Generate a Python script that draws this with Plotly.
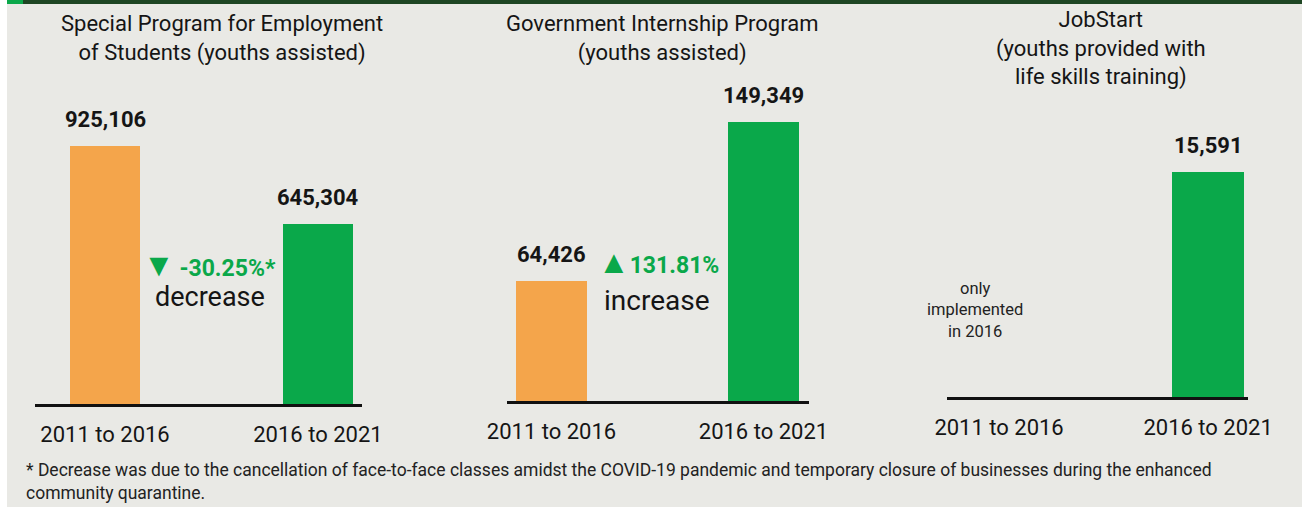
import plotly.graph_objects as go

W, H = 1302, 513

# ---- data ----
categories = ["2011 to 2016", "2016 to 2021"]
spes_values = [925106, 645304]
gip_values = [64426, 149349]
jobstart_values = [None, 15591]
spes_labels = ["925,106", "645,304"]
gip_labels = ["64,426", "149,349"]
jobstart_labels = [None, "15,591"]
titles = [
    "Special Program for Employment<br>of Students (youths assisted)",
    "Government Internship Program<br>(youths assisted)",
    "JobStart<br>(youths provided with<br>life skills training)",
]
spes_change = "-30.25%*"
gip_change = "131.81%"
footnote = ("* Decrease was due to the cancellation of face-to-face classes amidst the COVID-19 pandemic "
            "and temporary closure of businesses during the enhanced<br>community quarantine.")

ORANGE = "#F4A54B"
GREEN = "#0AA84A"
BG = "#E9E9E5"
DARK = "#1E4623"
TXT = "#151515"
FONT = "Roboto"

def px(x):
    return x / W

def py(y):
    return 1 - y / H

fig = go.Figure()

panels = [
    # values, labels, xdomain px, xrange, y baseline px, ymax, bar width
    (spes_values, spes_labels, (35, 362), (-0.329, 1.207), 404, 304 * 3586, 0.329),
    (gip_values, gip_labels, (507, 809), (-0.21, 1.215), 401, 301 * 536, 0.335),
    (jobstart_values, jobstart_labels, (947, 1248), (-0.249, 1.191), 397, 297 * 69.3, 0.344),
]
TOP = 100

for i, (vals, labs, xd, xr, base, ymax, bw) in enumerate(panels):
    n = "" if i == 0 else str(i + 1)
    colors = [ORANGE, GREEN]
    fig.add_trace(go.Bar(
        x=[0, 1], y=vals, marker=dict(color=colors, line=dict(width=0)),
        width=bw, xaxis="x" + n, yaxis="y" + n, hoverinfo="skip",
        showlegend=False,
    ))
    fig.layout["xaxis" + n] = dict(
        domain=[px(xd[0]), px(xd[1])], range=list(xr), anchor="y" + n,
        tickmode="array", tickvals=[0, 1], ticktext=categories,
        showline=True, linecolor="#111111", linewidth=2.5,
        showgrid=False, zeroline=False, ticks="",
        ticklabelstandoff=9, automargin=False,
        tickfont=dict(family=FONT, size=22, color=TXT),
        fixedrange=True,
    )
    fig.layout["yaxis" + n] = dict(
        domain=[py(base), py(TOP)], range=[0, ymax], anchor="x" + n,
        visible=False, showgrid=False, zeroline=False, fixedrange=True,
        automargin=False,
    )
    for j, (v, lab) in enumerate(zip(vals, labs)):
        if v is None:
            continue
        fig.add_annotation(
            x=j, y=v, xref="x" + n, yref="y" + n, text="<b>%s</b>" % lab,
            showarrow=False, yanchor="bottom", yshift=12,
            font=dict(family=FONT, size=22, color=TXT),
        )

# titles
title_pos = [(222, 39), (662, 39), (1101, 48)]
for t, (tx, ty) in zip(titles, title_pos):
    fig.add_annotation(
        x=px(tx), y=py(ty), xref="paper", yref="paper", text=t, showarrow=False,
        xanchor="center", yanchor="middle", align="center",
        font=dict(family=FONT, size=22, color=TXT),
    )

TRI = "<span style='font-size:32px'>%s</span>"
# change annotations
fig.add_annotation(x=px(209), y=py(265), xref="paper", yref="paper",
                   xanchor="center", yanchor="middle",
                   text=TRI % "▼" + "\u2009<b>%s</b>" % spes_change, showarrow=False,
                   font=dict(family=FONT, size=23, color=GREEN))
fig.add_annotation(x=px(210), y=py(297), xref="paper", yref="paper",
                   xanchor="center", yanchor="middle",
                   text="decrease", showarrow=False,
                   font=dict(family=FONT, size=27, color=TXT))
fig.add_annotation(x=px(658), y=py(262), xref="paper", yref="paper",
                   xanchor="center", yanchor="middle",
                   text=TRI % "▲" + "<b>%s</b>" % gip_change, showarrow=False,
                   font=dict(family=FONT, size=23, color=GREEN))
fig.add_annotation(x=px(657), y=py(300), xref="paper", yref="paper",
                   xanchor="center", yanchor="middle",
                   text="increase", showarrow=False,
                   font=dict(family=FONT, size=28, color=TXT))
fig.add_annotation(x=px(975), y=py(310), xref="paper", yref="paper",
                   xanchor="center", yanchor="middle",
                   text="only<br>implemented<br>in 2016", showarrow=False,
                   align="center",
                   font=dict(family=FONT, size=16.5, color="#222222"))

# footnote
fig.add_annotation(x=px(24), y=py(481), xref="paper", yref="paper",
                   text=footnote, showarrow=False, xanchor="left", yanchor="middle",
                   align="left", font=dict(family=FONT, size=17.5, color="#222222"))

# background shapes
fig.add_shape(type="rect", xref="paper", yref="paper", x0=px(7), x1=1, y0=py(507), y1=py(3),
              fillcolor=BG, line=dict(width=0), layer="below")
fig.add_shape(type="rect", xref="paper", yref="paper", x0=px(7), x1=1, y0=py(4), y1=1,
              fillcolor=DARK, line=dict(width=0), layer="below")
fig.add_shape(type="rect", xref="paper", yref="paper", x0=px(7), x1=px(23), y0=py(4), y1=1,
              fillcolor=GREEN, line=dict(width=0), layer="below")

fig.update_layout(
    width=W, height=H, margin=dict(l=0, r=0, t=0, b=0, pad=0, autoexpand=False),
    paper_bgcolor="white", plot_bgcolor="rgba(0,0,0,0)",
    font=dict(family=FONT), showlegend=False, bargap=0,
)

fig.write_html(
    "out.html",
    config={"displayModeBar": False},
    post_script="document.body.style.margin='0';document.body.style.overflow='hidden';",
)
